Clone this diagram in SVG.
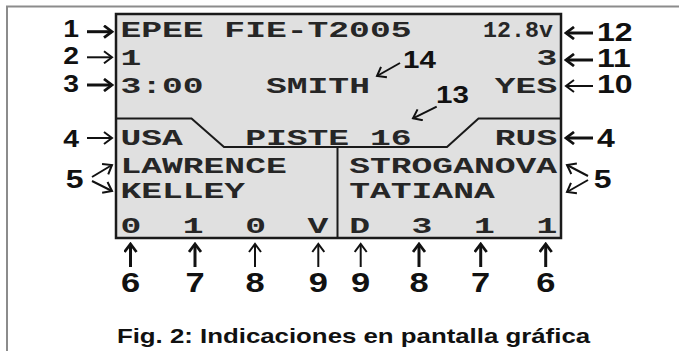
<svg xmlns="http://www.w3.org/2000/svg" width="679" height="351" viewBox="0 0 679 351">
<style>
.lcd{font-family:"Liberation Mono","Courier New",monospace;font-weight:bold;font-size:22px;fill:#262626}
.lbl{font-family:"Liberation Sans",Arial,sans-serif;font-weight:bold;fill:#111}
.s21{font-size:21px}.s23{font-size:23px}.s24{font-size:24px}.s26{font-size:26px}.s28{font-size:28px}
.end{text-anchor:end}.mid{text-anchor:middle}
.arr{fill:none;stroke:#111;stroke-width:2}
.thick{stroke-width:3;marker-end:url(#headThick)}
.thin{marker-end:url(#headThin)}
</style>
<defs>
<marker id="headThin" markerUnits="userSpaceOnUse" viewBox="0 0 12 14" markerWidth="12" markerHeight="14" refX="10" refY="7" orient="auto">
<path d="M2,1 L10,7 L2,13" fill="none" stroke="#111" stroke-width="2"/>
</marker>
<marker id="headThick" markerUnits="userSpaceOnUse" viewBox="0 0 12 14" markerWidth="12" markerHeight="14" refX="10" refY="7" orient="auto">
<path d="M2,1 L10,7 L2,13" fill="none" stroke="#111" stroke-width="2.8"/>
</marker>
</defs>
<rect width="679" height="351" fill="#fff"/>
<path d="M7,352 V6.5 H680" fill="none" stroke="#8c8c8c" stroke-width="2"/>

<g id="display">
<rect x="116" y="14" width="445" height="224" fill="#e0e0e0" stroke="#1a1a1a" stroke-width="2.5"/>
<path d="M116,118.5 H191.5 L224,147 H447 L478.5,118.5 H561" fill="none" stroke="#1a1a1a" stroke-width="2"/>
<path d="M337.5,147 V238" fill="none" stroke="#1a1a1a" stroke-width="2"/>
<g transform="scale(1.576,1)">
<text class="lcd" x="76.40" y="37">EPEE FIE-T2005</text>
<text class="lcd" x="76.40" y="65">1</text>
<text class="lcd" x="340.36" y="65">3</text>
<text class="lcd" x="76.40" y="93">3:00</text>
<text class="lcd" x="168.78" y="93">SMITH</text>
<text class="lcd" x="313.96" y="93">YES</text>
<text class="lcd" x="76.40" y="145">USA</text>
<text class="lcd" x="155.58" y="145">PISTE 16</text>
<text class="lcd" x="313.96" y="145">RUS</text>
<text class="lcd" x="76.40" y="173">LAWRENCE</text>
<text class="lcd" x="221.57" y="173">STROGANOVA</text>
<text class="lcd" x="76.40" y="198">KELLEY</text>
<text class="lcd" x="221.57" y="198">TATIANA</text>
<text class="lcd" x="76.40" y="233">0</text>
<text class="lcd" x="115.99" y="233">1</text>
<text class="lcd" x="155.58" y="233">0</text>
<text class="lcd" x="195.18" y="233">V</text>
<text class="lcd" x="221.57" y="233">D</text>
<text class="lcd" x="261.17" y="233">3</text>
<text class="lcd" x="300.76" y="233">1</text>
<text class="lcd" x="340.36" y="233">1</text>
</g>
<text class="lcd" transform="translate(483,37) scale(1.06,1)">12.8v</text>
</g>

<g id="connectors">
<path class="arr thick" d="M87,31.7 H112"/>
<path class="arr thin" d="M87,57.3 H112"/>
<path class="arr thick" d="M87,85 H112"/>
<path class="arr thin" d="M87,138 H112"/>
<path class="arr thin" d="M92,177 L112,165"/>
<path class="arr thin" d="M92,181 L112,191"/>
<path class="arr thick" d="M593,33 H566"/>
<path class="arr thick" d="M593,60 H566"/>
<path class="arr thin" d="M593,86 H566"/>
<path class="arr thick" d="M593,138 H566"/>
<path class="arr thin" d="M588,176 L567,165"/>
<path class="arr thin" d="M588,180 L567,192"/>
<path class="arr thin" d="M400,63 L377,76"/>
<path class="arr thin" d="M436.7,106.7 L413,118.3"/>
<path class="arr thick" d="M130.5,267 V244"/>
<path class="arr thick" d="M195,267 V244"/>
<path class="arr thin" d="M255,267 V244"/>
<path class="arr thin" d="M318.3,267 V244"/>
<path class="arr thin" d="M360.7,267 V244"/>
<path class="arr thick" d="M419,267 V244"/>
<path class="arr thick" d="M480.7,267 V244"/>
<path class="arr thick" d="M545.7,267 V244"/>
</g>

<g transform="scale(1.23,1)">
<g id="label-1"><text class="lbl s23 end" x="64.23" y="37.5">1</text></g>
<g id="label-2"><text class="lbl s23 end" x="64.23" y="64.5">2</text></g>
<g id="label-3"><text class="lbl s23 end" x="64.23" y="92">3</text></g>
<g id="label-4-left"><text class="lbl s23 end" x="64.23" y="147">4</text></g>
<g id="label-5-left"><text class="lbl s26" x="53.5" y="188">5</text></g>
<g id="label-12"><text class="lbl s26" x="485.37" y="41">12</text></g>
<g id="label-11"><text class="lbl s26" x="485.37" y="67.5">11</text></g>
<g id="label-10"><text class="lbl s26" x="485.37" y="93.5">10</text></g>
<g id="label-4-right"><text class="lbl s26" x="485.37" y="147.5">4</text></g>
<g id="label-5-right"><text class="lbl s26" x="482.76" y="188">5</text></g>
<g id="label-14"><text class="lbl s24" x="327.64" y="68.5">14</text></g>
<g id="label-13"><text class="lbl s24" x="354.47" y="103.5">13</text></g>
<g id="label-6-left"><text class="lbl s28 mid" x="106.10" y="292">6</text></g>
<g id="label-7-left"><text class="lbl s28 mid" x="158.54" y="292">7</text></g>
<g id="label-8-left"><text class="lbl s28 mid" x="207.32" y="292">8</text></g>
<g id="label-9-left"><text class="lbl s28 mid" x="258.78" y="292">9</text></g>
<g id="label-9-right"><text class="lbl s28 mid" x="293.25" y="292">9</text></g>
<g id="label-8-right"><text class="lbl s28 mid" x="340.65" y="292">8</text></g>
<g id="label-7-right"><text class="lbl s28 mid" x="390.81" y="292">7</text></g>
<g id="label-6-right"><text class="lbl s28 mid" x="443.66" y="292">6</text></g>
<g id="caption"><text class="lbl s21 mid" x="287.4" y="343">Fig. 2: Indicaciones en pantalla gráfica</text></g>
</g>
</svg>
